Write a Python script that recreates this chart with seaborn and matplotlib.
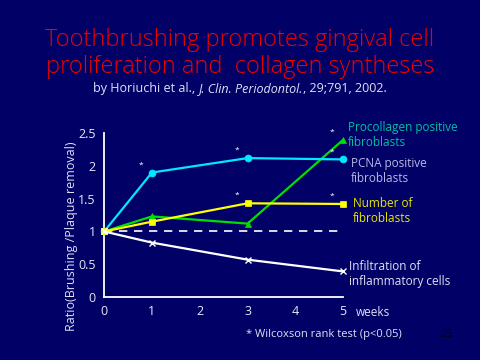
import pandas as pd
import matplotlib
matplotlib.use("Agg")
import matplotlib.pyplot as plt
import seaborn as sns

# data
weeks = [0, 1, 3, 5]
procollagen = [1.0, 1.23, 1.12, 2.4]
pcna = [1.0, 1.9, 2.12, 2.1]
fibroblasts = [1.0, 1.15, 1.43, 1.42]
infiltration = [1.0, 0.83, 0.57, 0.39]

x_ticks = [0, 1, 2, 3, 4, 5]
y_ticks = [0, 0.5, 1, 1.5, 2, 2.5]
y_tick_labels = ["0", "0.5", "1", "1.5", "2", "2.5"]

# significant points (week, series) marked with *
stars = [(1, "pcna"), (3, "pcna"), (3, "fibroblasts"),
         (5, "procollagen"), (5, "pcna"), (5, "fibroblasts")]

bg = "#000066"
sns.set_theme(style="white")
plt.rcParams["font.family"] = ["Open Sans", "DejaVu Sans"]

series = {
    "procollagen": (procollagen, "#00e000", "^", "Procollagen positive\nfibroblasts", "#00c0a0"),
    "pcna": (pcna, "#00e8ff", "o", "PCNA positive\nfibroblasts", "#b8b8e8"),
    "fibroblasts": (fibroblasts, "#ffff00", "s", "Number of\nfibroblasts", "#e8e800"),
    "infiltration": (infiltration, "#ffffff", "x", "Infiltration of\ninflammatory cells", "#e0e0f8"),
}
# label anchor (x, y) in data units, right of the plot
label_pos = {"procollagen": (5.1, 2.47), "pcna": (5.17, 1.92),
             "fibroblasts": (5.2, 1.31), "infiltration": (5.13, 0.35)}

fig = plt.figure(figsize=(4.8, 3.6), dpi=100, facecolor=bg)
ax = fig.add_axes([0.217, 0.175, 0.498, 0.455])
ax.set_facecolor(bg)

# reference line at ratio 1
ax.plot([0, 5], [1, 1], color="white", lw=1.2, ls=(0, (5, 4)), zorder=1)

for key, (vals, col, mk, lab, tcol) in series.items():
    df = pd.DataFrame({"week": weeks, "ratio": vals})
    sns.lineplot(data=df, x="week", y="ratio", ax=ax, color=col, marker=mk,
                 markersize=5 if mk != "x" else 4, markeredgecolor=col,
                 markeredgewidth=1 if mk == "x" else 0.5, lw=1.6, zorder=3,
                 clip_on=False)
    lx, ly = label_pos[key]
    ax.text(lx, ly, lab, color=tcol, fontsize=8.5, va="center",
            ha="left", linespacing=1.25, clip_on=False)

for wk, key in stars:
    v = series[key][0][weeks.index(wk)]
    ax.annotate("*", (wk, v), xytext=(-8, 3), textcoords="offset points",
                color="white", fontsize=6, ha="center", va="bottom")

ax.set_xlim(0, 5)
ax.set_ylim(0, 2.5)
ax.set_xticks(x_ticks)
ax.set_yticks(y_ticks)
ax.set_yticklabels(y_tick_labels)
ax.set_xlabel("")
ax.set_ylabel("")
ax.tick_params(colors="white", labelcolor="#e8e8f8", direction="in", length=3,
               width=1, labelsize=9, pad=6)
for s in ["top", "right"]:
    ax.spines[s].set_visible(False)
for s in ["left", "bottom"]:
    ax.spines[s].set_color("white")
    ax.spines[s].set_linewidth(1.3)

fig.text(0.148, 0.345, "Ratio(Brushing /Plaque removal)", rotation=90,
         color="#e0e0f8", fontsize=9, ha="center", va="center")
fig.text(0.742, 0.133, "weeks", color="#e0e0f8", fontsize=8.5, ha="left", va="center")
fig.text(0.512, 0.072, "* Wilcoxson rank test (p<0.05)", color="#e0e0f8",
         fontsize=8, ha="left", va="center")
fig.text(0.917, 0.072, "25", color="#000010", fontsize=8, ha="left", va="center")

fig.text(0.5, 0.889, "Toothbrushing promotes gingival cell", color="#ee0000",
         fontsize=17, ha="center", va="center", fontweight="light")
fig.text(0.5, 0.815, "proliferation and  collagen syntheses", color="#ee0000",
         fontsize=17, ha="center", va="center", fontweight="light")

# citation line: plain / italic / plain pieces laid out left to right
cite = [("by Horiuchi et al., ", "normal"), ("J. Clin. Periodontol.", "italic"),
        (", 29;791, 2002.", "normal")]
renderer = fig.canvas.get_renderer()
pieces = [fig.text(0, 0.755, t, color="#e0e0f8", fontsize=9, style=st,
                   ha="left", va="center") for t, st in cite]
widths = [p.get_window_extent(renderer).width for p in pieces]
x = (480 - sum(widths)) / 2
for p, w in zip(pieces, widths):
    p.set_x(x / 480)
    x += w

fig.savefig("out.png", dpi=100, facecolor=bg)
